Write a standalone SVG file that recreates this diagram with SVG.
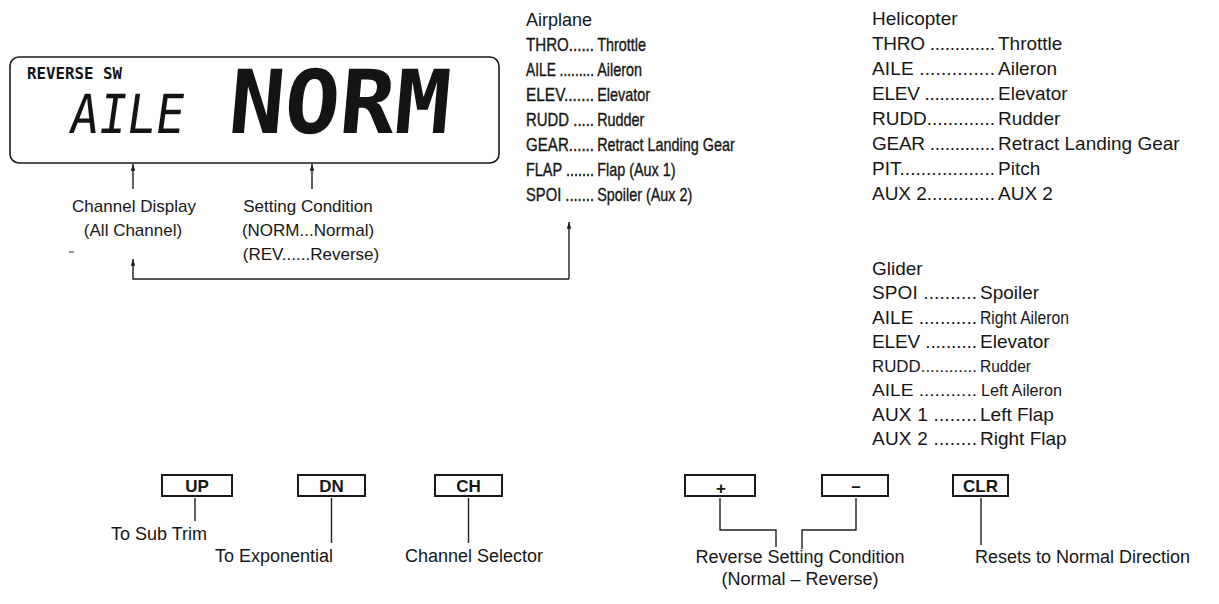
<svg xmlns="http://www.w3.org/2000/svg" width="1219" height="604" viewBox="0 0 1219 604">
<defs>
<style>
.t{font-family:"Liberation Sans",Arial,sans-serif;fill:#161616}
.s17{font-size:17px}
.s18{font-size:18px}
.s19{font-size:19px}
.mid{text-anchor:middle}
.end{text-anchor:end}
.heavy{stroke:#161616;stroke-width:0.35}
.box{fill:none;stroke:#1a1a1a;stroke-width:2}
.btxt{font-family:"Liberation Sans",Arial,sans-serif;font-weight:bold;font-size:17px;text-anchor:middle;fill:#161616}
.ln{fill:none;stroke:#1e1e1e;stroke-width:1.4}
.lcd{font-family:"DejaVu Sans Mono",monospace;fill:#141414}
</style>
<marker id="ah" viewBox="0 0 6 4" refX="6" refY="2" markerWidth="7" markerHeight="4.5" markerUnits="userSpaceOnUse" orient="auto">
<path d="M0,0 L6,2 L0,4 z" fill="#1e1e1e"/>
</marker>
</defs>
<rect width="1219" height="604" fill="#ffffff"/>

<g id="display">
<rect x="10" y="57" width="489" height="106" rx="9" fill="none" stroke="#1a1a1a" stroke-width="1.6"/>
<text class="lcd" x="27" y="79" font-size="15" font-weight="bold" textLength="95" lengthAdjust="spacingAndGlyphs">REVERSE SW</text>
<text class="lcd" transform="translate(68,133) skewX(-8)" x="0" y="0" font-size="54" textLength="114" lengthAdjust="spacingAndGlyphs">AILE</text>
<text class="lcd" transform="translate(227,133) skewX(-5)" x="0" y="0" font-size="88" font-weight="bold" textLength="221" lengthAdjust="spacingAndGlyphs">NORM</text>
</g>

<g id="label-channel-display">
<text class="t s17 mid" x="134" y="212">Channel Display</text>
<text class="t s17 mid" x="133" y="236">(All Channel)</text>
</g>
<g id="label-setting-condition">
<text class="t s17 mid" x="308" y="212">Setting Condition</text>
<text class="t s17 mid" x="308" y="236">(NORM...Normal)</text>
<text class="t s17 mid" x="311" y="260">(REV......Reverse)</text>
</g>
<line x1="69" y1="252" x2="74" y2="252" stroke="#555" stroke-width="1.2"/>

<g id="airplane-list">
<text class="t s18" x="526" y="26">Airplane</text>
<g class="t s18 heavy" transform="translate(526,0) scale(0.8,1)">
<text x="0" y="51" textLength="85" lengthAdjust="spacingAndGlyphs">THRO......</text><text x="89" y="51">Throttle</text>
<text x="0" y="76" textLength="85" lengthAdjust="spacingAndGlyphs">AILE .........</text><text x="89" y="76">Aileron</text>
<text x="0" y="101" textLength="85" lengthAdjust="spacingAndGlyphs">ELEV.......</text><text x="89" y="101">Elevator</text>
<text x="0" y="126" textLength="85" lengthAdjust="spacingAndGlyphs">RUDD .....</text><text x="89" y="126">Rudder</text>
<text x="0" y="151" textLength="85" lengthAdjust="spacingAndGlyphs">GEAR......</text><text x="89" y="151">Retract Landing Gear</text>
<text x="0" y="176" textLength="85" lengthAdjust="spacingAndGlyphs">FLAP .......</text><text x="89" y="176">Flap (Aux 1)</text>
<text x="0" y="201" textLength="85" lengthAdjust="spacingAndGlyphs">SPOI .......</text><text x="89" y="201">Spoiler (Aux 2)</text>
</g>
</g>

<g id="helicopter-list" class="t s19">
<text x="872" y="25">Helicopter</text>
<text x="872" y="50" textLength="123" lengthAdjust="spacing">THRO .............</text><text x="998" y="50">Throttle</text>
<text x="872" y="75" textLength="123" lengthAdjust="spacing">AILE ..............</text><text x="998" y="75">Aileron</text>
<text x="872" y="100" textLength="123" lengthAdjust="spacing">ELEV ..............</text><text x="998" y="100">Elevator</text>
<text x="872" y="125" textLength="123" lengthAdjust="spacing">RUDD.............</text><text x="998" y="125">Rudder</text>
<text x="872" y="150" textLength="123" lengthAdjust="spacing">GEAR .............</text><text x="998" y="150">Retract Landing Gear</text>
<text x="872" y="175" textLength="123" lengthAdjust="spacing">PIT..................</text><text x="998" y="175">Pitch</text>
<text x="872" y="200" textLength="123" lengthAdjust="spacing">AUX 2.............</text><text x="998" y="200">AUX 2</text>
</g>

<g id="glider-list" class="t s19">
<text x="872" y="275">Glider</text>
<text x="872" y="299" textLength="105" lengthAdjust="spacing">SPOI ..........</text><text x="980" y="299">Spoiler</text>
<text x="872" y="324" textLength="105" lengthAdjust="spacing">AILE ...........</text><text x="980" y="324" textLength="89" lengthAdjust="spacingAndGlyphs">Right Aileron</text>
<text x="872" y="348" textLength="105" lengthAdjust="spacing">ELEV ..........</text><text x="980" y="348">Elevator</text>
<text x="872" y="372" font-size="16" textLength="105" lengthAdjust="spacingAndGlyphs">RUDD............</text><text x="980" y="372" font-size="16" textLength="51" lengthAdjust="spacingAndGlyphs">Rudder</text>
<text x="872" y="396" font-size="16" textLength="105" lengthAdjust="spacingAndGlyphs">AILE ...........</text><text x="981" y="396" font-size="16" textLength="81" lengthAdjust="spacingAndGlyphs">Left Aileron</text>
<text x="872" y="421" textLength="105" lengthAdjust="spacing">AUX 1 ........</text><text x="980" y="421">Left Flap</text>
<text x="872" y="445" textLength="105" lengthAdjust="spacing">AUX 2 ........</text><text x="980" y="445">Right Flap</text>
</g>

<g id="btn-up"><rect class="box" x="162" y="475" width="70" height="21"/><text class="btxt" x="197" y="492">UP</text></g>
<g id="btn-dn"><rect class="box" x="298" y="475" width="67" height="21"/><text class="btxt" x="331.5" y="492">DN</text></g>
<g id="btn-ch"><rect class="box" x="435" y="475" width="67" height="21"/><text class="btxt" x="468.5" y="492">CH</text></g>
<g id="btn-plus"><rect class="box" x="685" y="475" width="70" height="21"/><text class="btxt" x="721" y="494">+</text></g>
<g id="btn-minus"><rect class="box" x="822" y="475" width="66" height="21"/><text class="btxt" x="856" y="492">–</text></g>
<g id="btn-clr"><rect class="box" x="953" y="475" width="55" height="21"/><text class="btxt" x="980.5" y="492">CLR</text></g>

<g id="bottom-labels" class="t s18">
<text class="end" x="207" y="540">To Sub Trim</text>
<text x="215" y="562">To Exponential</text>
<text x="405" y="562">Channel Selector</text>
<text class="mid" x="800" y="563">Reverse Setting Condition</text>
<text class="mid" x="800" y="585">(Normal – Reverse)</text>
<text x="975" y="563">Resets to Normal Direction</text>
</g>

<g id="connectors">
<path class="ln" d="M133,189 V164" marker-end="url(#ah)"/>
<path class="ln" d="M312,189 V164" marker-end="url(#ah)"/>
<path class="ln" d="M569,279 V222" marker-end="url(#ah)"/>
<path class="ln" d="M569,279 H133 V259" marker-end="url(#ah)"/>
<path class="ln" d="M195,498 V521"/>
<path class="ln" d="M331.5,498 V543"/>
<path class="ln" d="M468.5,498 V543"/>
<path class="ln" d="M720,498 V530 H776 V547"/>
<path class="ln" d="M856,498 V530 H802 V549"/>
<path class="ln" d="M981,498 V545"/>
</g>
</svg>
